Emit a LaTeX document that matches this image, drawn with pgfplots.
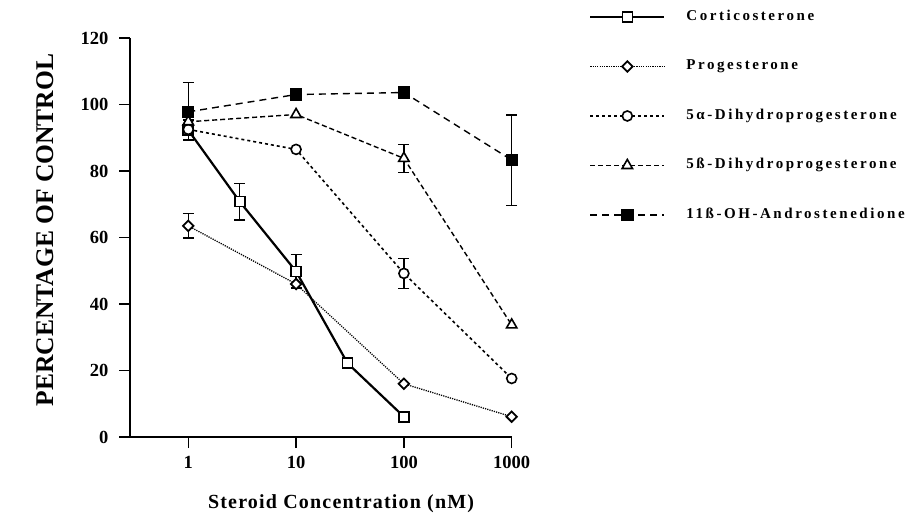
\documentclass[border=0pt]{standalone}
\usepackage{fontspec}
\setmainfont{Liberation Serif}
\newfontfamily\legfont[LetterSpace=17]{Liberation Serif}
\newfontfamily\labfont[LetterSpace=6]{Liberation Serif}
\usepackage{pgfplots}
\pgfplotsset{compat=1.18}
\begin{document}
\begin{tikzpicture}
\path[use as bounding box] (-130pt,-80pt) rectangle (794pt,437pt);
\begin{axis}[
  scale only axis, width=381.7pt, height=399pt,
  xmode=log, log basis x=10, xmin=0.288, xmax=1000, ymin=0, ymax=120,
  axis lines*=left, axis line style={line width=1.8pt},
  xtick={1,10,100,1000}, xticklabels={1,10,100,1000},
  ytick={0,20,40,60,80,100,120}, yticklabels={0,20,40,60,80,100,120},
  xminorticks=false,
  tick align=outside, major tick length=11pt,
  tick style={line width=1.5pt, black},
  ticklabel style={font=\fontsize{18.5}{18.5}\selectfont\bfseries},
  yticklabel style={xshift=-7pt},
  xticklabel style={yshift=-5pt},
  /pgf/number format/assume math mode=true,
  clip=false,
  xlabel={Steroid Concentration (nM)},
  xlabel style={at={(axis description cs:0.553,-0.168)}, anchor=center, font=\labfont\fontsize{20}{20}\selectfont\bfseries},
  ylabel={PERCENTAGE OF CONTROL},
  ylabel style={at={(axis description cs:-0.223,0.519)}, anchor=center, font=\fontsize{25.5}{25.5}\selectfont\bfseries},
  legend style={draw=none, fill=none, at={(axis description cs:1.1947,1.077)}, anchor=north west,
    row sep=34.5pt, column sep=0pt,
    nodes={inner sep=0pt, text height=11pt, text depth=4pt, font=\legfont\fontsize{15}{15}\selectfont\bfseries},
    /tikz/every odd column/.append style={column sep=21pt}},
  legend cell align=left,
  legend image code/.code={\draw[mark repeat=2,mark phase=2,#1] plot coordinates {(0pt,0pt) (37pt,0pt) (74pt,0pt)};},
  ebar/.style={forget plot, only marks, mark=none, black,
    error bars/.cd, y dir=both, y explicit,
    error bar style={solid, line width=1.4pt},
    error mark options={rotate=90, mark size=5.5pt, line width=1.4pt, solid}},
]
% error bars
\addplot[ebar] coordinates {(1,92.3) +- (0,3.0) (3,70.8) +- (0,5.5) (10,49.8) +- (0,5.0)};
\addplot[ebar] coordinates {(1,63.5) +- (0,3.7)};
\addplot[ebar] coordinates {(100,49.2) +- (0,4.5)};
\addplot[ebar] coordinates {(100,83.8) +- (0,4.2)};
\addplot[ebar] coordinates {(1,97.8) += (0,8.9) -= (0,0) (1000,83.3) +- (0,13.6)};
% series
\addplot[black, line width=2.2pt, mark=square*, mark size=5pt, mark options={solid, fill=white, line width=1.6pt}]
  coordinates {(1,92.3) (3,70.8) (10,49.8) (30,22.2) (100,6.1)};
\addlegendentry{Corticosterone}
\addplot[black, line width=1.3pt, dash pattern=on 1.2pt off 1.1pt, mark=square*, mark size=3.7pt, mark options={solid, rotate=45, fill=white, line width=1.8pt}]
  coordinates {(1,63.5) (10,46) (100,16) (1000,6.1)};
\addlegendentry{Progesterone}
\addplot[black, line width=1.6pt, dash pattern=on 3pt off 3pt, mark=*, mark size=5pt, mark options={solid, fill=white, line width=1.6pt}]
  coordinates {(1,92.5) (10,86.5) (100,49.2) (1000,17.6)};
\addlegendentry{5α-Dihydroprogesterone}
\addplot[black, line width=1.4pt, dash pattern=on 5pt off 3pt, mark=triangle*, mark size=6pt, mark options={solid, fill=white, line width=1.6pt}]
  coordinates {(1,94.8) (10,97) (100,83.8) (1000,33.7)};
\addlegendentry{5ß-Dihydroprogesterone}
\addplot[black, line width=1.4pt, dash pattern=on 7pt off 5pt, mark=square*, mark size=5.5pt, mark options={solid, fill=black}]
  coordinates {(1,97.8) (10,103) (100,103.6) (1000,83.3)};
\addlegendentry{11ß-OH-Androstenedione}
\end{axis}
\end{tikzpicture}
\end{document}
